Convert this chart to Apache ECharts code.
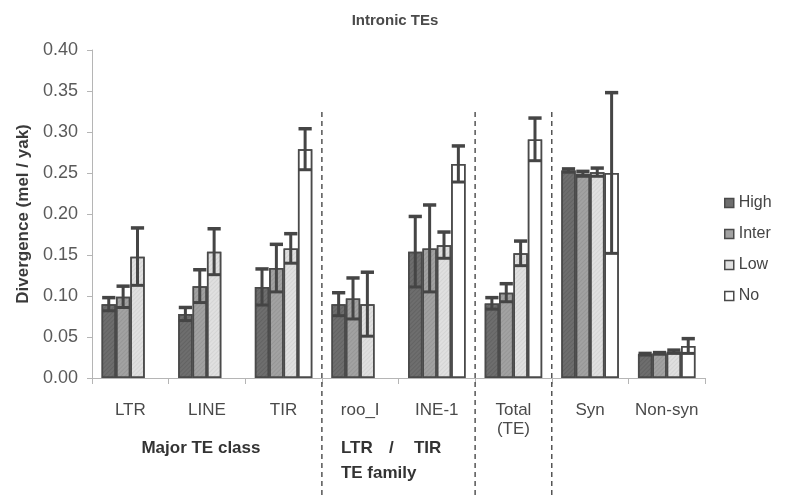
<!DOCTYPE html>
<html>
<head>
<meta charset="utf-8">
<script src="https://cdn.jsdelivr.net/npm/echarts@6/dist/echarts.min.js"></script>
<style>
  html, body { margin: 0; padding: 0; background: #fff; }
  #chart { width: 790px; height: 499px; }
</style>
</head>
<body>
<div id="chart"></div>
<script>
// Divergence of intronic TEs by expression level
const categories = ['LTR', 'LINE', 'TIR', 'roo_I', 'INE-1', 'Total\n(TE)', 'Syn', 'Non-syn'];
const levels = ['High', 'Inter', 'Low', 'No'];

const high     = [0.090, 0.078, 0.111, 0.090, 0.154, 0.091, 0.253, 0.029];
const highErr  = [0.008, 0.008, 0.022, 0.014, 0.043, 0.007, 0.002, 0.001];
const inter    = [0.099, 0.112, 0.134, 0.097, 0.158, 0.104, 0.249, 0.030];
const interErr = [0.013, 0.020, 0.029, 0.025, 0.053, 0.011, 0.003, 0.001];
const low      = [0.148, 0.154, 0.158, 0.090, 0.162, 0.152, 0.251, 0.032];
const lowErr   = [0.035, 0.028, 0.018, 0.039, 0.016, 0.015, 0.005, 0.002];
const no       = [null, null, 0.279, null, 0.261, 0.291, 0.250, 0.039];
const noErr    = [null, null, 0.025, null, 0.022, 0.026, 0.098, 0.009];

const yTicks = ['0.00', '0.05', '0.10', '0.15', '0.20', '0.25', '0.30', '0.35', '0.40'];

const values = [high, inter, low, no];
const errors = [highErr, interErr, lowErr, noErr];
const fills = ['#6e6e6e', '#a2a2a2', '#e0e0e0', '#ffffff'];
const hatch = ['rgba(0,0,0,0.10)', 'rgba(0,0,0,0.07)', 'rgba(0,0,0,0.05)', 'rgba(0,0,0,0)'];
const edge = '#4a4a4a';
const CAT_GAP = 0.25;   // share of each category left empty around a group
const FONT = '"Liberation Sans", Arial, sans-serif';

const chart = echarts.init(document.getElementById('chart'), null, { renderer: 'canvas' });

function errorSeries(k) {
  const data = [];
  values[k].forEach((v, i) => {
    if (v != null && errors[k][i] != null) {
      data.push([i, v - errors[k][i], v + errors[k][i]]);
    }
  });
  return {
    type: 'custom',
    name: levels[k],
    z: 10,
    silent: true,
    data: data,
    encode: { x: 0, y: [1, 2] },
    renderItem: function (params, api) {
      const band = api.size([1, 0])[0];
      const bw = band * (1 - CAT_GAP) / levels.length;
      const c = api.coord([api.value(0), 0]);
      const x = c[0] + (k - (levels.length - 1) / 2) * bw;
      const lo = api.coord([api.value(0), api.value(1)])[1];
      const hi = api.coord([api.value(0), api.value(2)])[1];
      const half = bw * 0.46;
      const st = { stroke: '#454545', lineWidth: 3 };
      return {
        type: 'group',
        children: [
          { type: 'line', shape: { x1: x, y1: lo, x2: x, y2: hi }, style: st },
          { type: 'line', shape: { x1: x - half, y1: hi, x2: x + half, y2: hi }, style: { stroke: '#454545', lineWidth: 3.5 } },
          { type: 'line', shape: { x1: x - half, y1: lo, x2: x + half, y2: lo }, style: st }
        ]
      };
    }
  };
}

const barSeries = levels.map((name, k) => ({
  type: 'bar',
  name: name,
  data: values[k],
  barGap: '0%',
  barCategoryGap: (CAT_GAP * 100) + '%',
  itemStyle: {
    color: fills[k],
    borderColor: edge,
    borderWidth: 1.5,
    decal: {
      symbol: 'rect',
      symbolSize: 1,
      dashArrayX: [1, 0],
      dashArrayY: [1, 2],
      rotation: -Math.PI / 4,
      color: hatch[k]
    }
  },
  emphasis: { disabled: true }
}));

const option = {
  animation: false,
  backgroundColor: '#ffffff',
  title: {
    text: 'Intronic TEs',
    left: 'center',
    top: 8,
    textStyle: { fontFamily: FONT, fontSize: 15, fontWeight: 'bold', color: '#4a4a4a' }
  },
  legend: {
    data: levels.map((name, k) => ({ name: name, itemStyle: { color: fills[k], borderColor: edge, borderWidth: 1.5, decal: 'none' } })),
    orient: 'vertical',
    left: 719,
    top: 189,
    itemWidth: 9,
    itemHeight: 9,
    itemGap: 13,
    icon: 'rect',
    textStyle: { fontFamily: FONT, fontSize: 16, color: '#444', lineHeight: 18 }
  },
  grid: { left: 92, right: 85, top: 50, bottom: 121, containLabel: false },
  xAxis: {
    type: 'category',
    data: categories,
    axisLine: { lineStyle: { color: '#b5b5b5', width: 1 } },
    axisTick: { show: true, length: 6, lineStyle: { color: '#b5b5b5' } },
    axisLabel: {
      interval: 0,
      margin: 23,
      fontFamily: FONT,
      fontSize: 17,
      color: '#4a4a4a',
      lineHeight: 19
    }
  },
  yAxis: {
    type: 'value',
    min: 0,
    max: 0.4,
    interval: 0.05,
    name: 'Divergence (mel / yak)',
    nameLocation: 'middle',
    nameRotate: 90,
    nameGap: 60,
    nameTextStyle: { fontFamily: FONT, fontSize: 17, fontWeight: 'bold', color: '#3a3a3a' },
    axisLine: { show: true, lineStyle: { color: '#b5b5b5' } },
    axisTick: { show: true, length: 5, lineStyle: { color: '#b5b5b5' } },
    splitLine: { show: false },
    axisLabel: {
      margin: 14,
      fontFamily: FONT,
      fontSize: 18,
      color: '#5a5a5a',
      formatter: function (v) { return yTicks[Math.round(v / 0.05)]; }
    }
  },
  series: barSeries.concat(levels.map((_, k) => errorSeries(k)))
};

chart.setOption(option);

// Separators between groups and the group captions below the axis
const px = (c) => chart.convertToPixel({ xAxisIndex: 0 }, c);
const boundary = (i) => (px(categories[i - 1]) + px(categories[i])) / 2;
const dashStyle = { stroke: '#555', lineWidth: 1.5, lineDash: [5, 4] };
const sepTop = 112, sepBottom = 499;
const capFont = 'bold 17px "Liberation Sans", Arial, sans-serif';
const b1 = boundary(3), b2 = boundary(5), b3 = boundary(6);

chart.setOption({
  graphic: [
    { type: 'line', shape: { x1: b1, y1: sepTop, x2: b1, y2: sepBottom }, style: dashStyle, z: 20 },
    { type: 'line', shape: { x1: b2, y1: sepTop, x2: b2, y2: sepBottom }, style: dashStyle, z: 20 },
    { type: 'line', shape: { x1: b3, y1: sepTop, x2: b3, y2: sepBottom }, style: dashStyle, z: 20 },
    { type: 'text', x: px(categories[1]) - 6, y: 448, style: { text: 'Major TE class', font: capFont, fill: '#333', textAlign: 'center', textVerticalAlign: 'middle' } },
    { type: 'text', x: b1 + 19, y: 448, style: { text: 'LTR', font: capFont, fill: '#333', textAlign: 'left', textVerticalAlign: 'middle' } },
    { type: 'text', x: b1 + 67, y: 448, style: { text: '/', font: capFont, fill: '#333', textAlign: 'left', textVerticalAlign: 'middle' } },
    { type: 'text', x: b1 + 92, y: 448, style: { text: 'TIR', font: capFont, fill: '#333', textAlign: 'left', textVerticalAlign: 'middle' } },
    { type: 'text', x: b1 + 19, y: 473, style: { text: 'TE family', font: capFont, fill: '#333', textAlign: 'left', textVerticalAlign: 'middle' } }
  ]
});
</script>
</body>
</html>
